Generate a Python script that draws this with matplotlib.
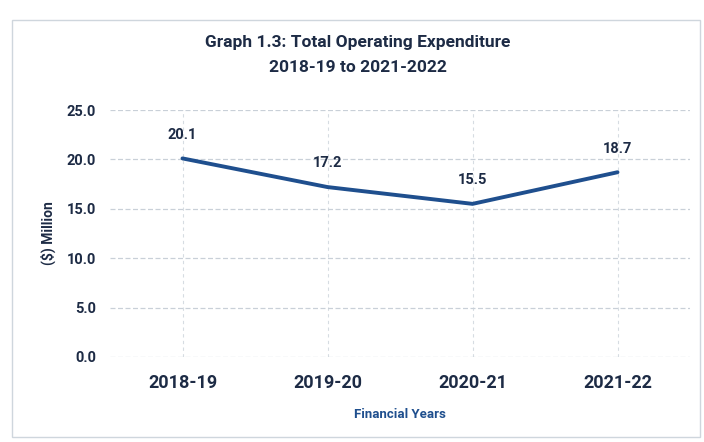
import matplotlib
matplotlib.use("Agg")
import matplotlib.pyplot as plt
from matplotlib.patches import Rectangle

years = ["2018-19", "2019-20", "2020-21", "2021-22"]
expenditure = [20.1, 17.2, 15.5, 18.7]
y_ticks = [0.0, 5.0, 10.0, 15.0, 20.0, 25.0]

title = "Graph 1.3: Total Operating Expenditure\n2018-19 to 2021-2022"
x_title = "Financial Years"
y_title = "($) Million"

TEXT = "#1d2b45"
LINE = "#1f4f8e"
GRID = "#c9d0d8"
FONT = ["Roboto", "DejaVu Sans"]

plt.rcParams["font.family"] = FONT

fig = plt.figure(figsize=(7.04, 4.42), dpi=100)
fig.patch.set_facecolor("white")

# outer chart frame
fig.add_artist(Rectangle((12 / 704, 1 - 437 / 442), (700 - 12) / 704, (437 - 20) / 442,
                         transform=fig.transFigure, fill=False,
                         edgecolor="#cfd6dd", linewidth=1.0))

ax = fig.add_axes([110 / 704, 1 - 357 / 442, 580 / 704, (357 - 110) / 442])
x = list(range(len(years)))
ax.plot(x, expenditure, color=LINE, linewidth=2.8, solid_capstyle="round", zorder=3)

for xi, v in zip(x, expenditure):
    ax.annotate(f"{v:.1f}", (xi, v), xytext=(0, 12), textcoords="offset points",
                ha="center", va="bottom", fontsize=10.5, fontweight="bold", color=TEXT)

ax.set_xlim(-0.5, len(years) - 0.5)
ax.set_ylim(0, 25)
ax.set_yticks(y_ticks)
ax.set_yticklabels([f"{t:.1f}" for t in y_ticks])
ax.set_xticks(x)
ax.set_xticklabels(years)

ax.grid(True, axis="y", color=GRID, linestyle=(0, (4, 2)), linewidth=0.9)
ax.grid(True, axis="x", color="#d6dce2", linestyle=(0, (3, 3)), linewidth=0.8)
ax.set_axisbelow(True)
for s in ax.spines.values():
    s.set_visible(False)
ax.tick_params(axis="both", length=0)
ax.tick_params(axis="y", labelsize=10.5, labelcolor=TEXT, pad=10)
ax.tick_params(axis="x", labelsize=13, labelcolor=TEXT, pad=12)
for lbl in ax.get_xticklabels() + ax.get_yticklabels():
    lbl.set_fontweight("bold")

ax.set_xlabel(x_title, fontsize=9.5, fontweight="bold", color=LINE, labelpad=12)
ax.set_ylabel(y_title, fontsize=10, fontweight="bold", color=TEXT, labelpad=8)

fig.text(358 / 704, 1 - 55 / 442, title, ha="center", va="center",
         fontsize=12.5, fontweight="bold", color=TEXT, linespacing=1.75)

fig.savefig("out.png", dpi=100, facecolor="white")
